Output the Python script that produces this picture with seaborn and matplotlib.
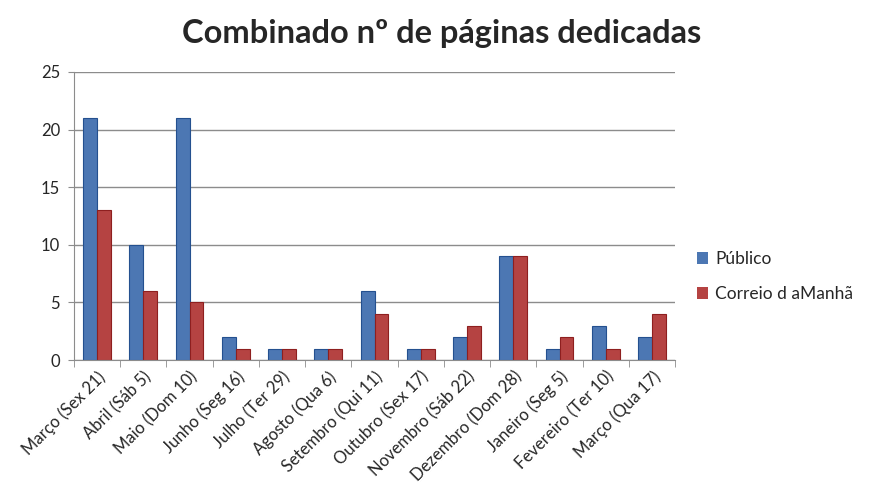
import pandas as pd
import seaborn as sns
import matplotlib.pyplot as plt

# Data
meses = ["Março (Sex 21)", "Abril (Sáb 5)", "Maio (Dom 10)", "Junho (Seg 16)",
         "Julho (Ter 29)", "Agosto (Qua 6)", "Setembro (Qui 11)", "Outubro (Sex 17)",
         "Novembro (Sáb 22)", "Dezembro (Dom 28)", "Janeiro (Seg 5)",
         "Fevereiro (Ter 10)", "Março (Qua 17)"]
publico = [21, 10, 21, 2, 1, 1, 6, 1, 2, 9, 1, 3, 2]
correio = [13, 6, 5, 1, 1, 1, 4, 1, 3, 9, 2, 1, 4]
series = ["Público", "Correio d aManhã"]

df = pd.DataFrame({
    "mes": meses * 2,
    "paginas": publico + correio,
    "jornal": [series[0]] * len(meses) + [series[1]] * len(meses),
})

sns.set_style("white")
plt.rcParams["font.family"] = ["Lato", "DejaVu Sans"]

fig = plt.figure(figsize=(8.7, 4.86), dpi=100)
ax = fig.add_axes([0.085, 0.259, 0.691, 0.593])

sns.barplot(data=df, x="mes", y="paginas", hue="jornal",
            palette=["#3B74C4", "#C8302F"], width=0.6, gap=0.0,
            edgecolor="none", ax=ax, legend=True)

# darker edges like the 3D-ish bars
for patch, col in zip(ax.patches, ["#24508F"] * 13 + ["#8E1F1F"] * 13):
    patch.set_edgecolor(col)
    patch.set_linewidth(0.8)

ax.set_ylim(0, 25)
ax.set_yticks([0, 5, 10, 15, 20, 25])
ax.set_xlim(-0.5, len(meses) - 0.5)
ax.yaxis.grid(True, color="#8C8C8C", linewidth=1)
ax.set_axisbelow(True)
for s in ["top", "right"]:
    ax.spines[s].set_visible(False)
ax.spines["left"].set_color("#8C8C8C")
ax.spines["bottom"].set_color("#8C8C8C")
ax.set_xlabel("")
ax.set_ylabel("")

ax.tick_params(axis="y", labelsize=12, length=4, color="#8C8C8C", left=True, pad=6)
ax.set_xticks(range(len(meses)))
ax.set_xticklabels(meses, rotation=45, ha="right", rotation_mode="anchor", fontsize=12)
ax.tick_params(axis="x", length=0, pad=6)
# tick marks between categories
ax.set_xticks([i - 0.5 for i in range(len(meses) + 1)], minor=True)
ax.tick_params(axis="x", which="minor", length=5, color="#8C8C8C", bottom=True)

fig.text(0.508, 0.932, "Combinado nº de páginas dedicadas", ha="center", va="center",
         fontsize=23.5, fontweight="bold")

handles, labels = ax.get_legend_handles_labels()
ax.legend(handles, labels, loc="center left", bbox_to_anchor=(1.01, 0.29),
          frameon=False, fontsize=12.5, handlelength=0.65, handleheight=0.65,
          labelspacing=1.1, handletextpad=0.4)

fig.savefig("out.png", dpi=100, facecolor="white")
